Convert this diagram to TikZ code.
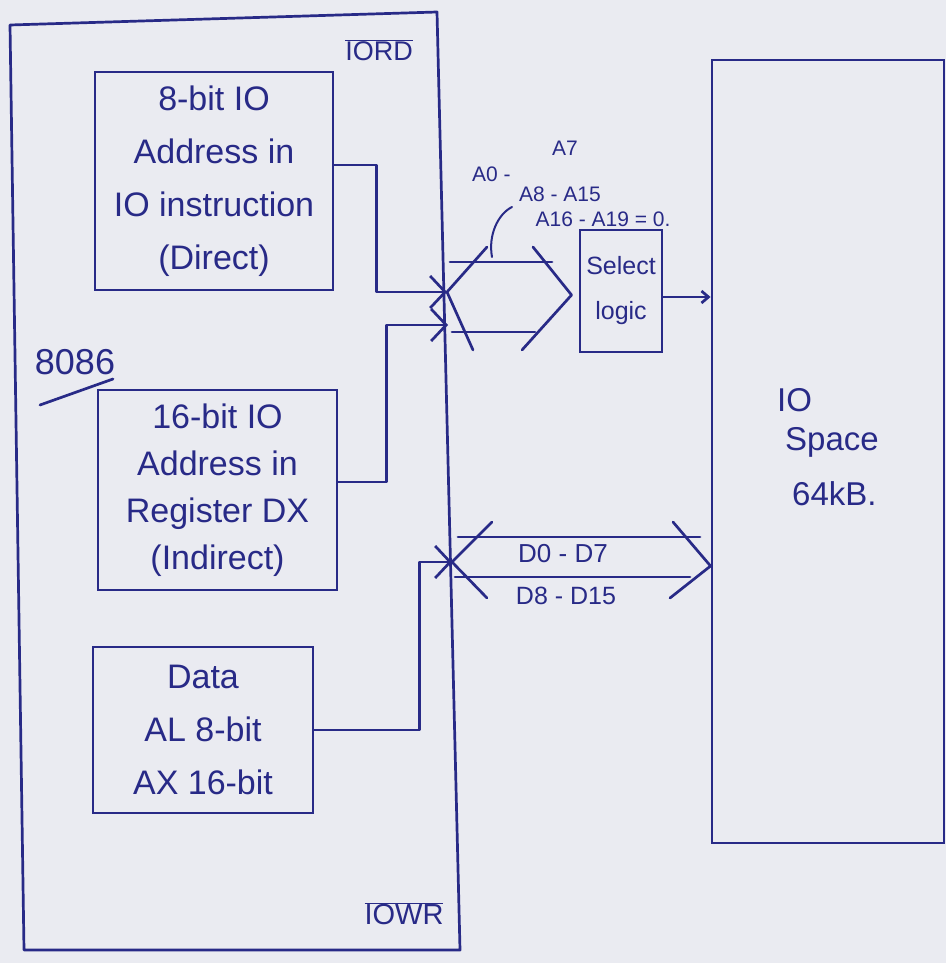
\documentclass[tikz,border=0pt]{standalone}
\usepackage{fontspec}
\setmainfont{Liberation Sans}
\usetikzlibrary{arrows.meta,calc}
\definecolor{ink}{RGB}{40,42,135}
\definecolor{paper}{RGB}{234,235,241}
\begin{document}
\begin{tikzpicture}[x=1pt,y=-1pt,
  wire/.style={draw=ink, line width=2.7pt, line join=round, line cap=round},
  box/.style={draw=ink, line width=2.9pt, text=ink, align=center, inner sep=0pt},
  lbl/.style={text=ink, inner sep=0pt},
  barb/.style={-{Straight Barb[length=15pt,width=32pt,line width=2.7pt]}},
  sbarb/.style={-{Straight Barb[length=7pt,width=12pt,line width=2.7pt]}}]
\fill[paper] (0,0) rectangle (946,963);
\useasboundingbox (0,0) rectangle (946,963);

% 8086 outline
\draw[wire] (10,25) coordinate (oTL) -- (437,12) coordinate (oTR) -- (460,950) coordinate (oBR) -- (24,950) coordinate (oBL) -- cycle;
\node[lbl, font=\fontsize{27}{30}\selectfont] (iord) at (379,50) {$\overline{\hbox{IORD}}$};
\node[lbl, font=\fontsize{29}{32}\selectfont] (iowr) at (404,914) {$\overline{\hbox{IOWR}}$};
\node[lbl, font=\fontsize{36}{40}\selectfont] (cpu) at (75,362) {8086};
\draw[wire] (40,405) coordinate (ul1) -- (113,379) coordinate (ul2);

% inner boxes
\node[box, minimum width=238pt, minimum height=218pt, font=\fontsize{34}{53}\selectfont] (b1) at (214,181)
  {8-bit IO\\Address in\\IO instruction\\(Direct)};
\node[box, minimum width=239pt, minimum height=200pt, font=\fontsize{34}{47}\selectfont] (b2) at (217.5,490)
  {16-bit IO\\Address in\\Register DX\\(Indirect)};
\node[box, minimum width=220pt, minimum height=166pt, font=\fontsize{34}{53}\selectfont] (b3) at (203,730)
  {Data\\AL 8-bit\\AX 16-bit};

% bus junction points
\coordinate (v1) at (447,292);
\coordinate (v2) at (448,325);
\coordinate (v3) at (452,562);

\draw[wire,barb] ([yshift=16pt]b1.east) -- ++(42,0) |- (v1);
\draw[wire,barb] ([yshift=8pt]b2.east) -- ++(48,0) |- (v2);
\draw[wire,barb] (b3.east) -- ++(105,0) |- (v3);

% select logic and IO space
\node[box, minimum width=82pt, minimum height=122pt, font=\fontsize{25}{45}\selectfont] (sel) at (621,291) {Select\\logic};
\node[box, minimum width=232pt, minimum height=783pt] (io) at (828,451.5) {};
\node[lbl, anchor=west, font=\fontsize{33}{36}\selectfont] (t1) at (777,400) {IO};
\node[lbl, anchor=west, font=\fontsize{33}{36}\selectfont] (t2) at (785,442) {Space};
\node[lbl, anchor=west, font=\fontsize{33}{36}\selectfont] (t3) at (792,494) {64kB.};

\draw[wire,sbarb] ([yshift=-6pt]sel.east) -- ([yshift=-6pt]sel.east -| io.west);

% address bus
\coordinate (aR) at ([xshift=-7pt,yshift=-4pt]sel.west);
\draw[wire] (487,247) -- (v1) -- (473,350);
\draw[wire] (450,262) -- (552,262);
\draw[wire] (452,332) -- (535,332);
\draw[wire] (533,247) -- (aR) -- (522,350);
\node[lbl, anchor=west, font=\fontsize{21}{24}\selectfont] (a0) at (472,174) {A0 -};
\node[lbl, font=\fontsize{21}{24}\selectfont] (a7) at (565,148) {A7};
\node[lbl, font=\fontsize{21}{24}\selectfont] (a8) at (560,194) {A8 - A15};
\node[lbl, font=\fontsize{21}{24}\selectfont] (a16) at (603,219) {A16 - A19 = 0.};
\draw[wire, line width=2pt] (492,257) .. controls (488,235) and (498,214) .. (512,207);

% data bus
\coordinate (dR) at ([yshift=-4pt]io.west |- v3);
\draw[wire] (492,522) -- (v3) -- (487,598);
\draw[wire] (458,537) -- (700,537);
\draw[wire] (455,577) -- (690,577);
\draw[wire] (673,522) -- (dR) -- (670,598);
\node[lbl, font=\fontsize{26}{28}\selectfont] (d0) at (563,554) {D0 - D7};
\node[lbl, font=\fontsize{25}{28}\selectfont] (d8) at (566,596) {D8 - D15};
\end{tikzpicture}
\end{document}
